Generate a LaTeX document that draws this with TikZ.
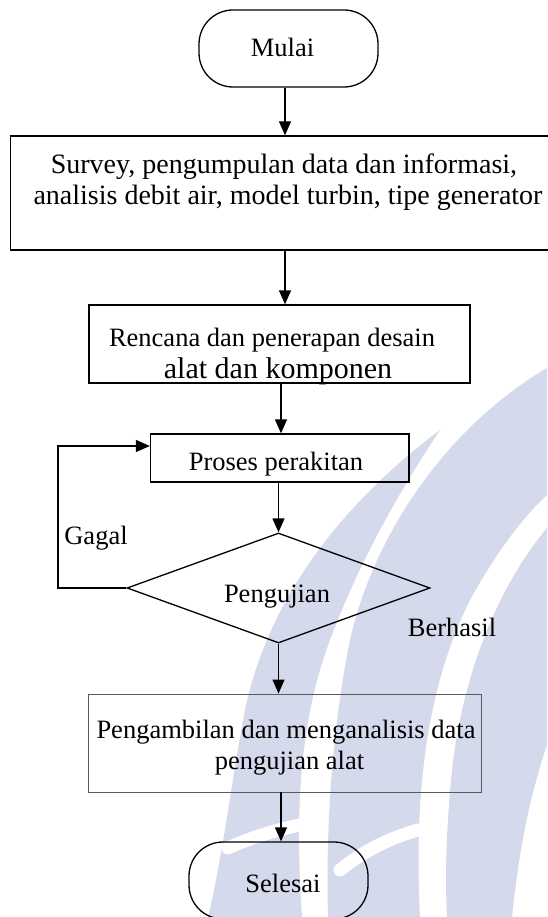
\documentclass[tikz,border=0pt]{standalone}
\usepackage{fontspec}
\setmainfont{Liberation Serif}
\usetikzlibrary{shapes.geometric,arrows.meta}
\definecolor{wm}{RGB}{212,217,235}
\definecolor{thinline}{RGB}{90,90,90}
\begin{document}
\begin{tikzpicture}[x=1pt,y=-1pt,
  boxshape/.style={draw=black,line width=1.3pt,rectangle,inner sep=0pt},
  thinbox/.style={draw=thinline,line width=0.9pt,rectangle,inner sep=0pt},
  termshape/.style={draw=black,line width=1.3pt,rectangle,rounded corners=34pt,inner sep=0pt,minimum width=179pt,minimum height=77pt},
  diashape/.style={draw=black,line width=1.3pt,diamond,inner sep=0pt,minimum width=303pt,minimum height=110pt},
  txt/.style={font=\fontsize{26.5}{31}\selectfont,inner sep=0pt,anchor=base},
  bigtxt/.style={font=\fontsize{28}{31}\selectfont,inner sep=0pt,anchor=base},
  alttxt/.style={font=\fontsize{30}{31}\selectfont,inner sep=0pt,anchor=base},
  vein/.style={white,line width=13pt,line cap=round},
  arr/.style={-{Triangle[length=14pt,width=12pt]},line width=1.3pt}]
\useasboundingbox (0,0) rectangle (547,917);
\fill[white] (0,0) rectangle (547,917);
% watermark
\fill[wm] (440,430) .. controls (340,505) and (268,600) .. (245,710) .. controls (230,790) and (222,860) .. (208,917) -- (302,917) .. controls (296,830) and (296,730) .. (330,640) .. controls (360,560) and (400,490) .. (440,430) -- cycle;
\fill[wm] (547,368) .. controls (450,425) and (375,530) .. (350,640) .. controls (330,740) and (326,840) .. (328,917) -- (420,917) .. controls (414,800) and (425,690) .. (470,600) .. controls (495,555) and (520,520) .. (547,495) -- cycle;
\fill[wm] (547,528) .. controls (495,590) and (462,680) .. (452,770) .. controls (446,830) and (445,880) .. (447,917) -- (512,917) .. controls (520,840) and (532,790) .. (547,745) -- cycle;
\draw[vein] (228,848) .. controls (250,838) and (275,830) .. (300,825);
\draw[vein] (340,870) .. controls (365,850) and (390,838) .. (418,830);
% shapes
\node[termshape] (mulai) at (288.5,48.5) {};
\node[boxshape,minimum width=541.5pt,minimum height=114pt] (survey) at (281.25,193) {};
\node[boxshape,minimum width=381pt,minimum height=78pt] (rencana) at (279.5,344) {};
\node[boxshape,minimum width=258.5pt,minimum height=48pt] (proses) at (279.75,458) {};
\node[diashape] (uji) at (278.5,588) {};
\node[thinbox,minimum width=393pt,minimum height=98pt] (ambil) at (284.5,743) {};
\node[termshape] (selesai) at (278.5,880.5) {};
% texts
\node[txt] (tmulai) at (282.5,57) {Mulai};
\node[bigtxt] (ts1) at (284,174) {Survey, pengumpulan data dan informasi,};
\node[bigtxt] (ts2) at (288,205) {analisis debit air, model turbin, tipe generator};
\node[txt] (tr1) at (272,346) {Rencana dan penerapan desain};
\node[alttxt] (tr2) at (278,378) {alat dan komponen};
\node[txt] (tp) at (276,470) {Proses perakitan};
\node[txt] (tg) at (96,544) {Gagal};
\node[txt] (tu) at (277,602) {Pengujian};
\node[txt] (tb) at (452,636) {Berhasil};
\node[txt] (ta1) at (286,738) {Pengambilan dan menganalisis data};
\node[txt] (ta2) at (289.5,769) {pengujian alat};
\node[txt] (tsel) at (283,892) {Selesai};
% connectors
\coordinate (k1) at (285,0);
\coordinate (k2) at (281,0);
\coordinate (lx) at (58,0);
\coordinate (loopy) at (0,446);
\draw[arr] (k1 |- mulai.south) -- (k1 |- survey.north);
\draw[arr] (k1 |- survey.south) -- (k1 |- rencana.north);
\draw[arr] (k2 |- rencana.south) -- (k2 |- proses.north);
\draw[arr] (uji.north |- proses.south) -- (uji.north);
\draw[arr] (uji.south) -- (uji.south |- ambil.north);
\draw[arr] (k2 |- ambil.south) -- (k2 |- selesai.north);
\draw[arr] (uji.west) -- (lx |- uji.west) -- (lx |- loopy) -- (proses.west |- loopy);
\end{tikzpicture}
\end{document}
